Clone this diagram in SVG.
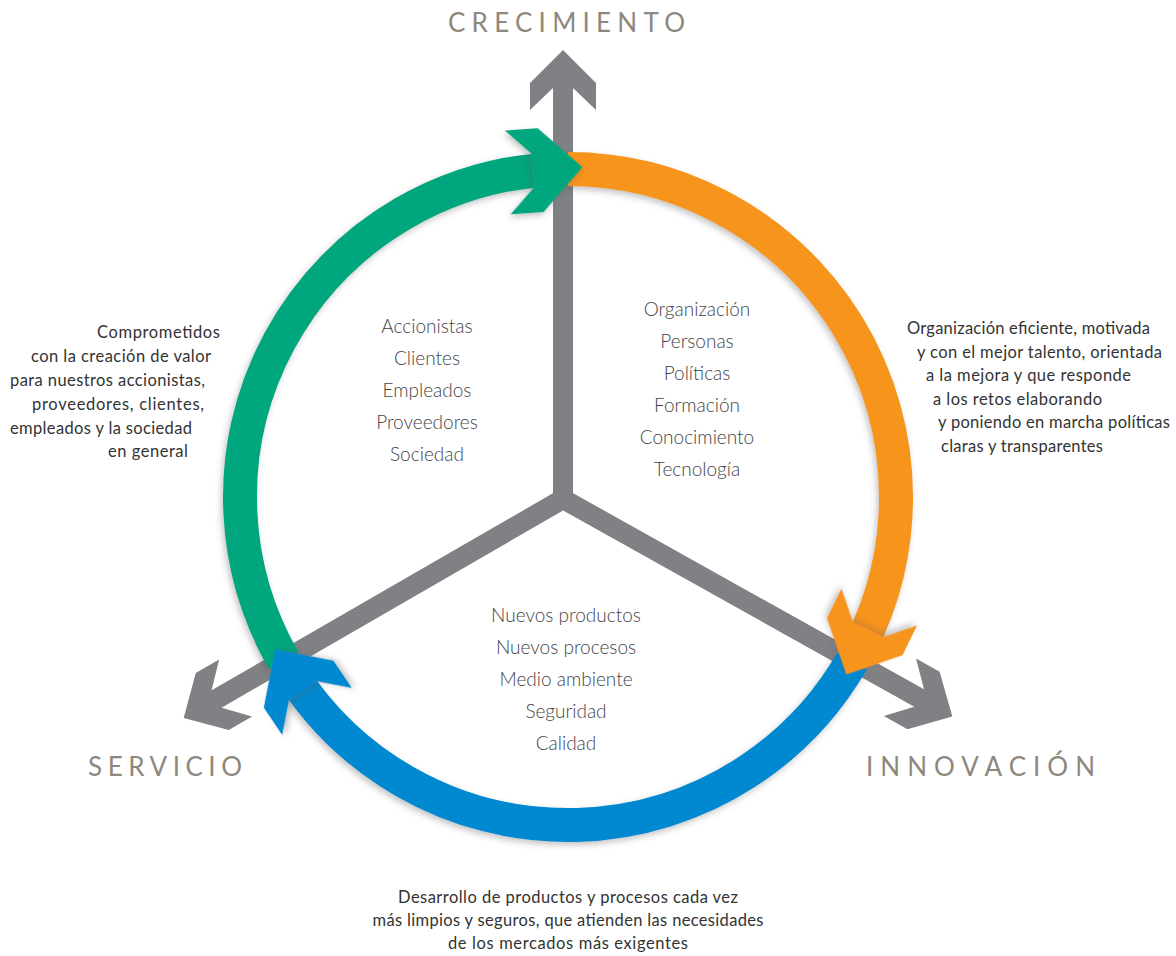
<svg xmlns="http://www.w3.org/2000/svg" width="1176" height="956" viewBox="0 0 1176 956">
<style>
.title{font-family:Lato,"Liberation Sans",sans-serif;font-size:26px;fill:#8e877d;}
.para{font-family:Lato,"Liberation Sans",sans-serif;font-size:16.5px;fill:#333333;}
.list{font-family:Lato,"Liberation Sans",sans-serif;font-weight:300;font-size:19px;fill:#444446;text-anchor:middle;}
.band{fill:none;stroke-width:34;stroke-linecap:butt;}
.arm{fill:#808184;}
</style>
<defs>
<filter id="sh" x="-20%" y="-20%" width="140%" height="140%">
<feDropShadow dx="-2" dy="3" stdDeviation="3" flood-color="#555" flood-opacity="0.35"/>
</filter>
<path id="head" d="M37.5,0 L-4.5,42 L-37.5,42 L-12.5,17 L-12.5,-17 L-37.5,-42 L-4.5,-42 Z"/>
</defs>
<rect width="1176" height="956" fill="#ffffff"/>
<g id="connectors">
<g id="axes">
<path class="arm" transform="translate(563,499) rotate(-90)" d="M0,-10 L411,-10 L389,-33 L416,-33 L449,0 L416,33 L389,33 L411,10 L0,10 Z"/>
<path class="arm" transform="translate(563,499) rotate(29.2)" d="M0,-10 L408,-10 L386,-33 L413,-33 L446,0 L413,33 L386,33 L408,10 L0,10 Z"/>
<path class="arm" transform="translate(563,499) rotate(150)" d="M0,-10 L400,-10 L378,-33 L405,-33 L438,0 L405,33 L378,33 L400,10 L0,10 Z"/>
<circle cx="563" cy="499" r="10" fill="#808184"/>
</g>
<g id="ring">
<path class="band" stroke="#f7941d" filter="url(#sh)" d="M568,169 A328,328 0 0 1 860.25,645.91"/>
<path class="band" stroke="#0089d0" filter="url(#sh)" d="M852.06,661 A328,328 0 0 1 292.92,675.64"/>
<path class="band" stroke="#00a67e" filter="url(#sh)" d="M283.94,661 A328,328 0 0 1 550.83,169.45"/>
<use href="#head" fill="#00a67e" filter="url(#sh)" transform="translate(545.12,169.8) rotate(-4)"/>
<use href="#head" fill="#f7941d" filter="url(#sh)" transform="translate(862.8,640.79) rotate(116)"/>
<use href="#head" fill="#0089d0" filter="url(#sh)" transform="translate(296.08,680.42) rotate(236)"/>
</g>
</g>
<g id="crecimiento"><text class="title" x="448" y="32" textLength="237" lengthAdjust="spacing">CRECIMIENTO</text></g>
<g id="servicio"><text class="title" x="88" y="776" textLength="154" lengthAdjust="spacing">SERVICIO</text></g>
<g id="innovacion"><text class="title" x="866" y="776" textLength="229" lengthAdjust="spacing">INNOVACIÓN</text></g>
<g id="list-servicio">
<text class="list" x="427" y="333">Accionistas</text>
<text class="list" x="427" y="365">Clientes</text>
<text class="list" x="427" y="397">Empleados</text>
<text class="list" x="427" y="429">Proveedores</text>
<text class="list" x="427" y="461">Sociedad</text>
</g>
<g id="list-crecimiento">
<text class="list" x="697" y="316">Organización</text>
<text class="list" x="697" y="348">Personas</text>
<text class="list" x="697" y="380">Políticas</text>
<text class="list" x="697" y="412">Formación</text>
<text class="list" x="697" y="444">Conocimiento</text>
<text class="list" x="697" y="476">Tecnología</text>
</g>
<g id="list-innovacion">
<text class="list" x="566" y="622">Nuevos productos</text>
<text class="list" x="566" y="654">Nuevos procesos</text>
<text class="list" x="566" y="686">Medio ambiente</text>
<text class="list" x="566" y="718">Seguridad</text>
<text class="list" x="566" y="750">Calidad</text>
</g>
<g id="text-servicio">
<text class="para" x="97" y="338" textLength="123" lengthAdjust="spacing">Comprometidos</text>
<text class="para" x="31" y="362" textLength="180" lengthAdjust="spacing">con la creación de valor</text>
<text class="para" x="10" y="386" textLength="195" lengthAdjust="spacing">para nuestros accionistas,</text>
<text class="para" x="32" y="410" textLength="172" lengthAdjust="spacing">proveedores, clientes,</text>
<text class="para" x="10" y="434" textLength="182" lengthAdjust="spacing">empleados y la sociedad</text>
<text class="para" x="108" y="457" textLength="80" lengthAdjust="spacing">en general</text>
</g>
<g id="text-crecimiento">
<text class="para" x="907" y="334" textLength="243" lengthAdjust="spacing">Organización eficiente, motivada</text>
<text class="para" x="917" y="358" textLength="245" lengthAdjust="spacing">y con el mejor talento, orientada</text>
<text class="para" x="926" y="381" textLength="205" lengthAdjust="spacing">a la mejora y que responde</text>
<text class="para" x="933" y="405" textLength="169" lengthAdjust="spacing">a los retos elaborando</text>
<text class="para" x="938" y="428" textLength="232" lengthAdjust="spacing">y poniendo en marcha políticas</text>
<text class="para" x="941" y="452" textLength="162" lengthAdjust="spacing">claras y transparentes</text>
</g>
<g id="text-innovacion">
<text class="para" x="568" y="903" text-anchor="middle" textLength="340" lengthAdjust="spacing">Desarrollo de productos y procesos cada vez</text>
<text class="para" x="568" y="926" text-anchor="middle" textLength="391" lengthAdjust="spacing">más limpios y seguros, que atienden las necesidades</text>
<text class="para" x="568" y="949" text-anchor="middle" textLength="240" lengthAdjust="spacing">de los mercados más exigentes</text>
</g>
</svg>
